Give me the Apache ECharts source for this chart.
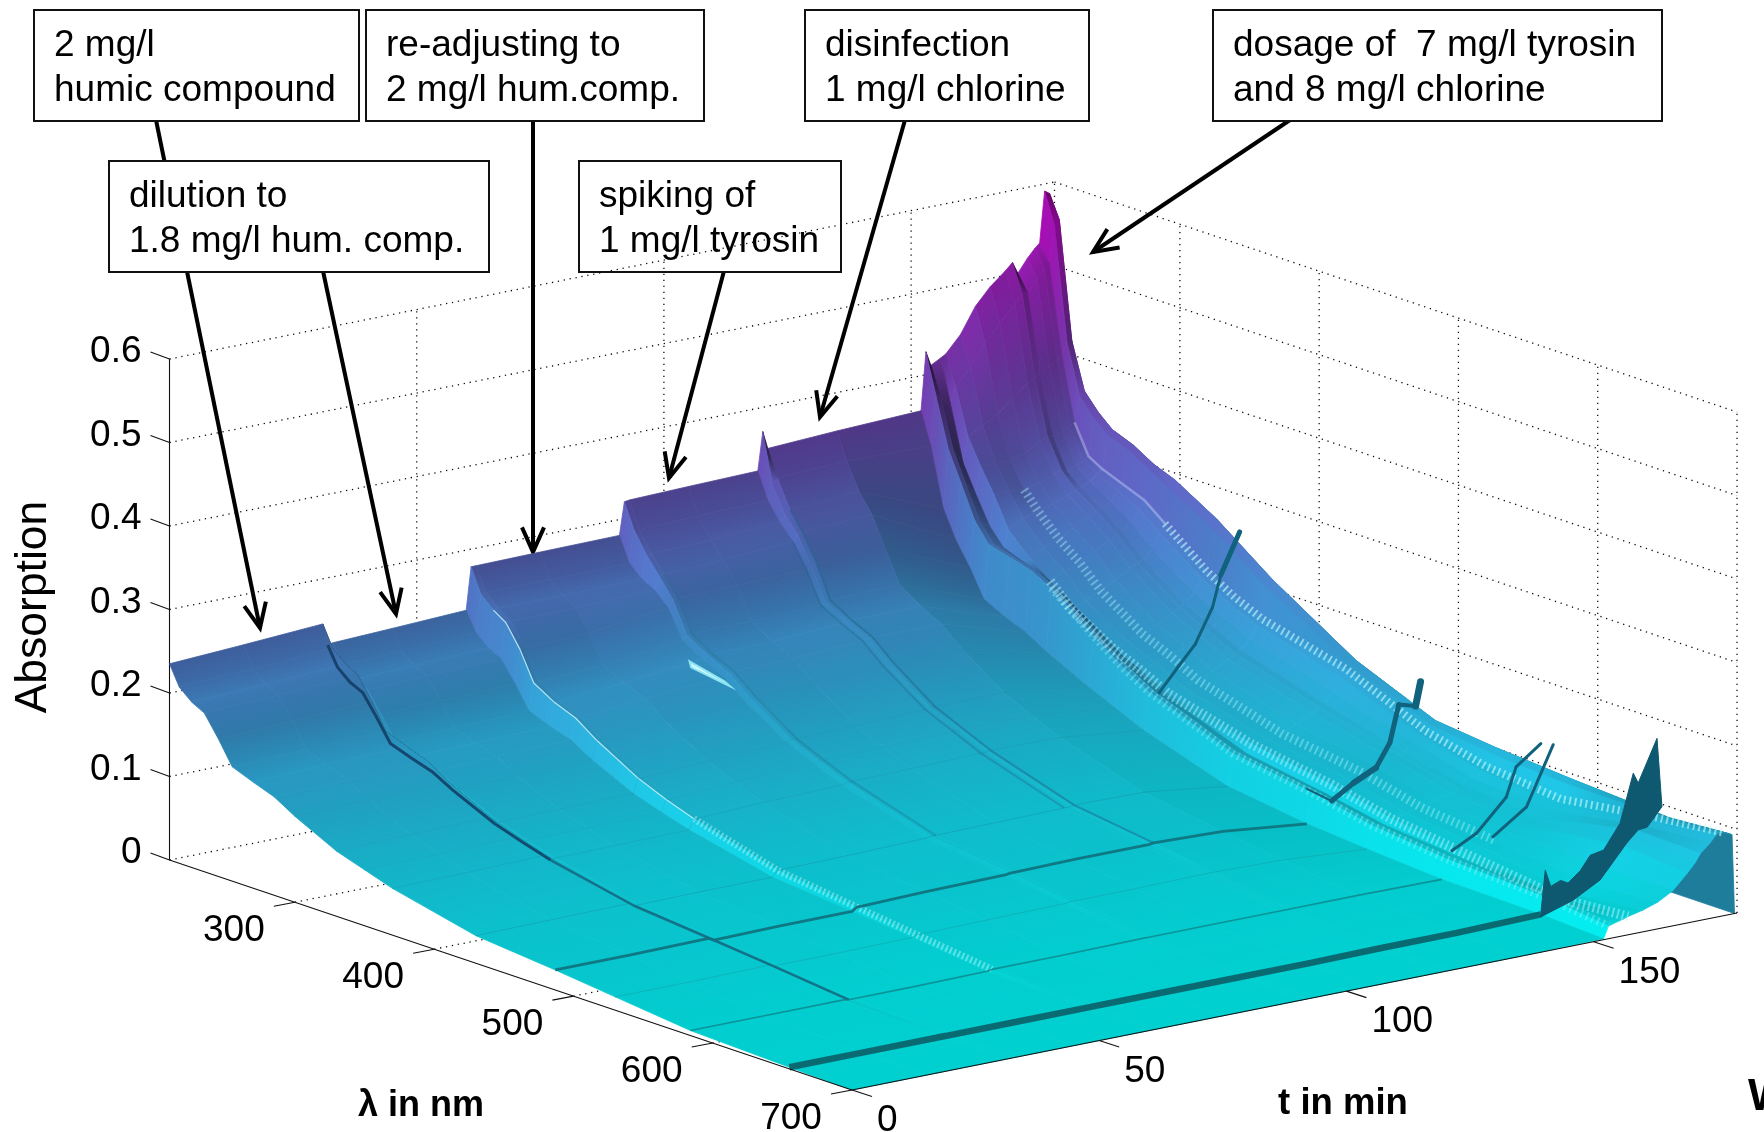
<!DOCTYPE html>
<html><head><meta charset="utf-8">
<style>html,body{margin:0;padding:0;background:#fff;overflow:hidden}#c{width:1764px;height:1132px}</style>
<script src="https://cdn.jsdelivr.net/npm/echarts@6/dist/echarts.min.js"></script>
</head><body><div id="c"></div>
<script>
// ---------- data ----------
const lambdaNm = [210,217,226,235,245,255,270,285,300,330,350,370,430,487,530,584,655,700];
const timeMin = [0,15,31,32,33,45,60,61,62,75,91,92,93,105,119,120,121,135,152,153,154,156,157,160,163,166,169,170.5,171.6,173.5,175,176,177,178,178.5];
const absorption = [
[.235,.211,.198,.190,.165,.137,.127,.118,.103,.078,.067,.056,.033,.024,.016,.006,.002,0],
[.240,.215,.202,.194,.168,.140,.130,.120,.105,.080,.068,.057,.034,.024,.016,.006,.002,0],
[.246,.221,.207,.199,.173,.143,.133,.124,.108,.082,.070,.059,.035,.025,.017,.006,.002,0],
[.2195,.197,.184,.177,.153,.127,.118,.110,.096,.073,.062,.052,.031,.022,.015,.005,.002,0],
[.221,.198,.186,.179,.155,.128,.119,.111,.097,.074,.063,.053,.031,.022,.015,.005,.002,0],
[.224,.201,.189,.181,.157,.130,.121,.113,.098,.075,.064,.054,.032,.023,.015,.005,.002,0],
[.228,.205,.192,.184,.160,.133,.123,.115,.100,.076,.065,.055,.032,.023,.016,.006,.002,0],
[.279,.250,.236,.226,.200,.165,.150,.140,.122,.093,.079,.067,.039,.027,.018,.007,.002,0],
[.279,.251,.237,.227,.200,.165,.150,.140,.122,.093,.079,.067,.039,.027,.018,.007,.002,0],
[.280,.251,.237,.227,.203,.170,.157,.147,.128,.097,.083,.070,.040,.029,.019,.007,.002,0],
[.281,.252,.238,.230,.214,.181,.167,.154,.133,.101,.086,.072,.042,.030,.020,.008,.002,0],
[.320,.290,.265,.245,.222,.185,.170,.157,.136,.103,.088,.074,.043,.031,.021,.008,.002,0],
[.321,.290,.266,.246,.223,.186,.170,.158,.137,.103,.088,.074,.043,.031,.021,.008,.002,0],
[.323,.292,.268,.250,.224,.187,.171,.159,.138,.104,.089,.075,.044,.032,.021,.008,.002,0],
[.325,.294,.272,.255,.226,.190,.176,.164,.142,.107,.092,.077,.045,.032,.022,.008,.003,0],
[.371,.310,.280,.262,.229,.192,.177,.165,.143,.108,.092,.077,.045,.032,.022,.008,.003,0],
[.3496,.318,.285,.264,.232,.193,.178,.166,.144,.108,.093,.078,.046,.033,.022,.008,.003,0],
[.354,.322,.290,.268,.232,.195,.178,.165,.143,.108,.092,.077,.045,.030,.020,.008,.003,0],
[.358,.320,.250,.217,.190,.158,.145,.135,.120,.095,.080,.065,.032,.019,.013,.007,.005,.001],
[.4275,.380,.320,.285,.245,.222,.215,.208,.195,.155,.130,.110,.070,.055,.040,.030,.024,.015],
[.410,.375,.318,.282,.243,.221,.214,.207,.194,.154,.130,.110,.070,.055,.040,.030,.024,.017],
[.4166,.365,.300,.268,.235,.215,.205,.195,.180,.145,.122,.104,.066,.050,.036,.028,.020,.020],
[.420,.385,.330,.300,.270,.235,.210,.190,.165,.135,.120,.103,.076,.060,.043,.031,.016,.022],
[.440,.405,.340,.300,.272,.245,.218,.198,.172,.140,.125,.108,.079,.064,.047,.036,.018,.026],
[.470,.430,.350,.300,.270,.250,.225,.205,.180,.145,.130,.112,.082,.068,.050,.040,.027,.032],
[.490,.450,.365,.305,.275,.255,.235,.215,.190,.153,.137,.120,.090,.071,.054,.046,.042,.042],
[.505,.470,.380,.315,.280,.262,.245,.225,.200,.163,.147,.130,.100,.077,.060,.052,.066,.060],
[.5137,.480,.385,.320,.285,.267,.250,.230,.205,.168,.152,.135,.105,.080,.063,.055,.075,.070],
[.4995,.480,.388,.318,.282,.268,.252,.232,.208,.172,.155,.138,.108,.083,.065,.058,.082,.080],
[.515,.495,.395,.322,.286,.273,.258,.240,.218,.182,.165,.150,.120,.090,.071,.064,.084,.090],
[.525,.505,.400,.327,.291,.280,.268,.255,.235,.197,.178,.163,.135,.098,.080,.070,.090,.100],
[.5305,.510,.405,.330,.295,.285,.275,.265,.245,.205,.185,.170,.144,.102,.084,.075,.092,.100],
[.5916,.555,.420,.360,.340,.325,.315,.300,.285,.255,.230,.205,.148,.108,.098,.092,.092,.098],
[.5875,.560,.420,.365,.345,.330,.320,.305,.295,.265,.240,.215,.152,.112,.104,.097,.090,.095],
[.544,.500,.390,.340,.320,.300,.290,.270,.250,.220,.190,.160,.100,.050,.020,0,0,0]
];
const absorptionTicks = [0,0.1,0.2,0.3,0.4,0.5,0.6];
const lambdaTicks = [300,400,500,600,700];
const timeTicks = [0,50,100,150];
// dark artefact ridges on the surface, late in the run
const ridge350 = {lambda:350, t:[160.7,164.7,168,171.5,173.2,177], z:[.0886,.116,.138,.178,.215,.262], w:[3,3,3,3,5,6]};
const ridge487 = {lambda:487, t:[152,157,161.5,166,168.8,170.6,174,175], z:[.061,.0405,.057,.0695,.0964,.14,.134,.162], w:[2,5,6,5,5,4,7,3]};
const ridge584 = {lambda:584, t:[154,159,165,167,172], z:[.039,.054,.09,.124,.146], w:[3,3,3,3,3]};
const ridge600 = {lambda:600, t:[157.8,164.6,170], z:[.06,.088,.156], w:[3,3,3]};
const band655TopT = [152,152.9,154,156,157.5,160,162,164.7,168,170.7,171.7,175.5,176.5];
const band655TopZ = [.006,.057,.036,.041,.036,.048,.064,.067,.095,.152,.139,.188,.105];
const band655BottomT = [173.5,171.7,169.4,164,158.6,152];
const band655BottomZ = [.084,.083,.070,.032,.0144,.002];
const spotLambda = [271,296,293,265];
const spotTime = [88,88,90,90];
const spotZ = [.168,.158,.148,.155];
// curves along the wavelength axis at one time: [time, from nm, to nm, colour, width, opacity, dash, gap]
const timeCurves = [
 [32,210,370,'#123a62',3,.85],[32,370,584,'#155a74',2.5,.75],
 [61,226,370,'#bfe9f5',1.2,.9],[61,370,584,'#b4f6fa',7,.5,2,2.5],
 [121,226,487,'#1d5f84',2,.5],[119,235,430,'#1d5f84',2,.35],[93,235,430,'#1d6a8a',2,.35],
 [153,300,700,'#a5f3f8',8,.4,2,4],[157,285,700,'#b0f8ff',10,.5,2,3],[163,245,584,'#b0f8ff',9,.4,2,3.5],
 [176,235,300,'#cfd8ff',2.5,.4],[176,300,700,'#c8fbff',8,.6,2,3.5]
];
// spectral lines along the time axis: [nm, colour, width, opacity]
const lambdaLines = [[300,'#0d7f95',1,.15],[330,'#0d7f95',1,.18],[350,'#0d7f95',1,.15],[370,'#0d7f95',1,.25],[430,'#0d7f95',1,.35],[487,'#0f7480',2.8,.95],[530,'#0d8a90',1,.35],[584,'#0d7f85',1.6,.75],[655,'#0a6a72',6.5,1]];

const annotations = [
 {box:[34,10,325,111], lines:['2 mg/l','humic compound'], arrow:[156,120,260,628]},
 {box:[366,10,338,111], lines:['re-adjusting to','2 mg/l hum.comp.'], arrow:[533,120,533,552]},
 {box:[805,10,284,111], lines:['disinfection','1 mg/l chlorine'], arrow:[905,120,820,417]},
 {box:[1213,10,449,111], lines:['dosage of  7 mg/l tyrosin','and 8 mg/l chlorine'], arrow:[1290,120,1093,252]},
 {box:[109,161,380,111], lines:['dilution to','1.8 mg/l hum. comp.'], arrow:[323,271,396,614]},
 {box:[579,161,262,111], lines:['spiking of','1 mg/l tyrosin'], arrow:[724,271,669,478]}
];

// ---------- projection of the 3-D box on the picture plane ----------
const LMIN=210,LMAX=700,TMAX=179,ZMAX=.6;
function project(l,t,z){
  const u=(l-LMIN)/(LMAX-LMIN), v=t/TMAX, w=z/ZMAX;
  return [169.5+682.5*u+885*v, 860+230*u-177*v-501*w];
}
const FONT="'Liberation Sans',Arial,sans-serif";

// ---------- shading: "cool" colormap with a light from the -t side ----------
const LIGHT=[0,-.7071,.7071];
function shade(z,gl,gt){
  const g1=gl/(1+Math.abs(gl)*.5);
  const nx=-g1,ny=-gt,nz=1,m=Math.hypot(nx,ny,nz);
  const d=(nx*LIGHT[0]+ny*LIGHT[1]+nz*LIGHT[2])/m;
  let k=.18+.9*Math.max(0,d);
  if(k>.82) k=.82+(k-.82)*.5;
  const f=Math.min(1,Math.max(0,z/ZMAX));
  k*=1-.2*Math.min(1,f*1.6);
  let r=f*k,g=(1-f)*k,b=k;
  return 'rgb('+Math.round(Math.min(1,r)*255)+','+Math.round(Math.min(1,g)*255)+','+Math.round(Math.min(1,b)*255)+')';
}
const SL=.6*835/1.47, ST=.38*835/5;
function cellColor(i,j){ // colour of column j for the strip between rows i and i+1
  const a=absorption[i],c=absorption[i+1],n=lambdaNm.length;
  const j0=Math.max(0,j-1),j1=Math.min(n-1,j+1),dl=lambdaNm[j1]-lambdaNm[j0];
  const gl=((a[j1]-a[j0])+(c[j1]-c[j0]))/2/dl*SL;
  if(i===timeMin.length-2) return shade(Math.max(.12,(a[j]+c[j])/2),1.6,0); // end wall of the run
  const gt=(c[j]-a[j])/(timeMin[i+1]-timeMin[i])*ST;
  return shade((a[j]+c[j])/2,gl,gt);
}
const cells=[];
for(let i=timeMin.length-2;i>=0;i--) for(let j=0;j<lambdaNm.length-1;j++) cells.push([i,j]);

function surfaceItem(params,api){
  const i=api.value(0),j=api.value(1);
  const pr=(a,b)=>api.coord(project(lambdaNm[b],timeMin[a],absorption[a][b]));
  const p=[pr(i,j),pr(i,j+1),pr(i+1,j+1),pr(i+1,j)];
  const c0=cellColor(i,j),c1=cellColor(i,j+1);
  const m0=[(p[0][0]+p[3][0])/2,(p[0][1]+p[3][1])/2],m1=[(p[1][0]+p[2][0])/2,(p[1][1]+p[2][1])/2];
  // colour bands run parallel to the time-direction sides of the cell, so neighbouring strips meet
  let ex=(p[3][0]-p[0][0])+(p[2][0]-p[1][0]),ey=(p[3][1]-p[0][1])+(p[2][1]-p[1][1]);
  const el=Math.hypot(ex,ey)||1;ex/=el;ey/=el;
  const ax=-ey,ay=ex,d=(m1[0]-m0[0])*ax+(m1[1]-m0[1])*ay;
  const fill=new echarts.graphic.LinearGradient(m0[0],m0[1],m0[0]+ax*d,m0[1]+ay*d,[{offset:0,color:c0},{offset:1,color:c1}],true);
  return {type:'polygon',shape:{points:p},style:{fill:fill,stroke:fill,lineWidth:.8}};
}
function polyItem(api,pts,style,closed){
  const points=pts.map(a=>api.coord(a));
  return {type:closed?'polygon':'polyline',shape:{points:points},style:style};
}
// frame: dotted walls and solid axes
function frameSeg(){
  const s=[],dot=1,sol=0;
  absorptionTicks.forEach(z=>{
    s.push([project(LMIN,0,z),project(LMIN,TMAX,z),dot]);
    s.push([project(LMIN,TMAX,z),project(LMAX,TMAX,z),dot]);
  });
  timeTicks.slice(1).concat([TMAX]).forEach(t=>{
    s.push([project(LMIN,t,0),project(LMIN,t,ZMAX),dot]);
    s.push([project(LMIN,t,0),project(LMAX,t,0),dot]);
  });
  lambdaTicks.forEach(l=>{
    s.push([project(l,TMAX,0),project(l,TMAX,ZMAX),dot]);
    if(l<LMAX) s.push([project(l,0,0),project(l,TMAX,0),dot]);
  });
  s.push([project(LMIN,0,0),project(LMIN,0,ZMAX),sol]);
  return s;
}
function axesSeg(){
  const s=[];
  s.push([project(LMIN,0,0),project(LMAX,0,0),0]);
  s.push([project(LMAX,0,0),project(LMAX,TMAX,0),0]);
  absorptionTicks.forEach(z=>{const p=project(LMIN,0,z);s.push([p,[p[0]-19,p[1]-7],0]);});
  lambdaTicks.forEach(l=>{const p=project(l,0,0);s.push([p,[p[0]-21,p[1]+4],0]);});
  timeTicks.forEach(t=>{const p=project(LMAX,t,0);s.push([p,[p[0]+20,p[1]+6.5],0]);});
  return s;
}
function segSeries(data,zv){
  return {type:'custom',coordinateSystem:'cartesian2d',silent:true,z:zv,clip:false,data:data.map((d,i)=>[i]),
    renderItem:(p,api)=>{const d=data[api.value(0)];
      return polyItem(api,[d[0],d[1]],d[2]?{stroke:'#111',lineWidth:1.3,lineDash:[1.3,4.7],fill:null}:{stroke:'#111',lineWidth:1.1,fill:null});}};
}
function rowOverlay(){
  const out=[];
  timeCurves.forEach(c=>{
    const i=timeMin.indexOf(c[0]),pts=[];
    lambdaNm.forEach((l,j)=>{if(l>=c[1]&&l<=c[2])pts.push(project(l,c[0],absorption[i][j]));});
    const st={stroke:c[3],lineWidth:c[4],opacity:c[5],fill:null,lineJoin:'round'};
    if(c[6]) st.lineDash=[c[6],c[7]];
    out.push({pts:pts,style:st});
  });
  lambdaLines.forEach(c=>{
    const j=lambdaNm.indexOf(c[0]),pts=[];
    timeMin.forEach((t,i)=>{if(t<=152)pts.push(project(c[0],t,absorption[i][j]));});
    out.push({pts:pts,style:{stroke:c[1],lineWidth:c[2],opacity:c[3],fill:null,lineJoin:'round'}});
  });
  [ridge350,ridge487,ridge584,ridge600].forEach(r=>{
    for(let k=0;k<r.t.length-1;k++)
      out.push({pts:[project(r.lambda,r.t[k],r.z[k]),project(r.lambda,r.t[k+1],r.z[k+1])],style:{stroke:'#11627c',lineWidth:r.w[k],fill:null,lineCap:'round'}});
  });
  const band=band655TopT.map((t,k)=>project(655,t,band655TopZ[k])).concat(band655BottomT.map((t,k)=>project(655,t,band655BottomZ[k])));
  out.push({pts:band,closed:true,style:{fill:'#0e5870',stroke:'#0e5870',lineWidth:1}});
  out.push({pts:spotLambda.map((l,k)=>project(l,spotTime[k],spotZ[k])),closed:true,style:{fill:'#cdfbff',stroke:'#8fe4f2',lineWidth:2}});
  return out;
}
const overlay=rowOverlay();

// text labels
const labels=[];
absorptionTicks.forEach(z=>{const p=project(LMIN,0,z);labels.push({x:p[0]-28,y:p[1]-7,t:String(z),a:'right'});});
lambdaTicks.forEach(l=>{const p=project(l,0,0);labels.push({x:p[0]-61,y:p[1]+29,t:String(l),a:'center'});});
timeTicks.forEach(t=>{const p=project(LMAX,t,0);labels.push({x:p[0]+25,y:p[1]+31,t:String(t),a:'left'});});

const graphics=[];
function arrowParts(a){
  const dx=a[2]-a[0],dy=a[3]-a[1],ang=Math.atan2(dy,dx),L=27,S=.42;
  return [
   {type:'line',shape:{x1:a[0],y1:a[1],x2:a[2],y2:a[3]},style:{stroke:'#000',lineWidth:4}},
   {type:'polyline',shape:{points:[[a[2]-L*Math.cos(ang-S),a[3]-L*Math.sin(ang-S)],[a[2],a[3]],[a[2]-L*Math.cos(ang+S),a[3]-L*Math.sin(ang+S)]]},style:{stroke:'#000',lineWidth:4,fill:null}}
  ];
}
annotations.forEach(a=>arrowParts(a.arrow).forEach(g=>graphics.push(g)));
annotations.forEach(a=>{
  const b=a.box;
  graphics.push({type:'rect',shape:{x:b[0],y:b[1],width:b[2],height:b[3]},style:{fill:'#fff',stroke:'#111',lineWidth:2}});
  a.lines.forEach((t,k)=>graphics.push({type:'text',x:b[0]+20,y:b[1]+36+45*k,style:{text:t,fill:'#000',font:'37px '+FONT,textAlign:'left',textVerticalAlign:'middle'}}));
});
graphics.push({type:'text',x:34,y:607,rotation:Math.PI/2,style:{text:'Absorption',fill:'#000',font:'44.5px '+FONT,textAlign:'center',textVerticalAlign:'middle'}});
graphics.push({type:'text',x:421,y:1106,style:{text:'λ in nm',fill:'#000',font:'bold 36px '+FONT,textAlign:'center',textVerticalAlign:'middle'}});
graphics.push({type:'text',x:1343,y:1104,style:{text:'t in min',fill:'#000',font:'bold 36.5px '+FONT,textAlign:'center',textVerticalAlign:'middle'}});
graphics.push({type:'text',x:1748,y:1098,style:{text:'W',fill:'#000',font:'bold 44px '+FONT,textAlign:'left',textVerticalAlign:'middle'}});

const chart=echarts.init(document.getElementById('c'),null,{renderer:'canvas',width:1764,height:1132});
chart.setOption({
  animation:false,backgroundColor:'#fff',
  grid:{left:0,right:0,top:0,bottom:0},
  xAxis:{type:'value',min:0,max:1764,show:false},
  yAxis:{type:'value',min:0,max:1132,inverse:true,show:false},
  graphic:{elements:graphics},
  tooltip:{show:false},
  series:[
    segSeries(frameSeg(),1),
    {type:'custom',coordinateSystem:'cartesian2d',silent:true,z:2,clip:false,data:cells,renderItem:surfaceItem,progressive:0},
    {type:'custom',coordinateSystem:'cartesian2d',silent:true,z:3,clip:false,data:overlay.map((d,i)=>[i]),progressive:0,
      renderItem:(p,api)=>{const d=overlay[api.value(0)];return polyItem(api,d.pts,d.style,d.closed);}},
    segSeries(axesSeg(),4),
    {type:'custom',coordinateSystem:'cartesian2d',silent:true,z:5,clip:false,data:labels.map((d,i)=>[i]),
      renderItem:(p,api)=>{const d=labels[api.value(0)],c=api.coord([d.x,d.y]);
        return {type:'text',x:c[0],y:c[1],style:{text:d.t,fill:'#000',font:'37px '+FONT,textAlign:d.a,textVerticalAlign:'middle'}};}}
  ]
});
</script></body></html>
